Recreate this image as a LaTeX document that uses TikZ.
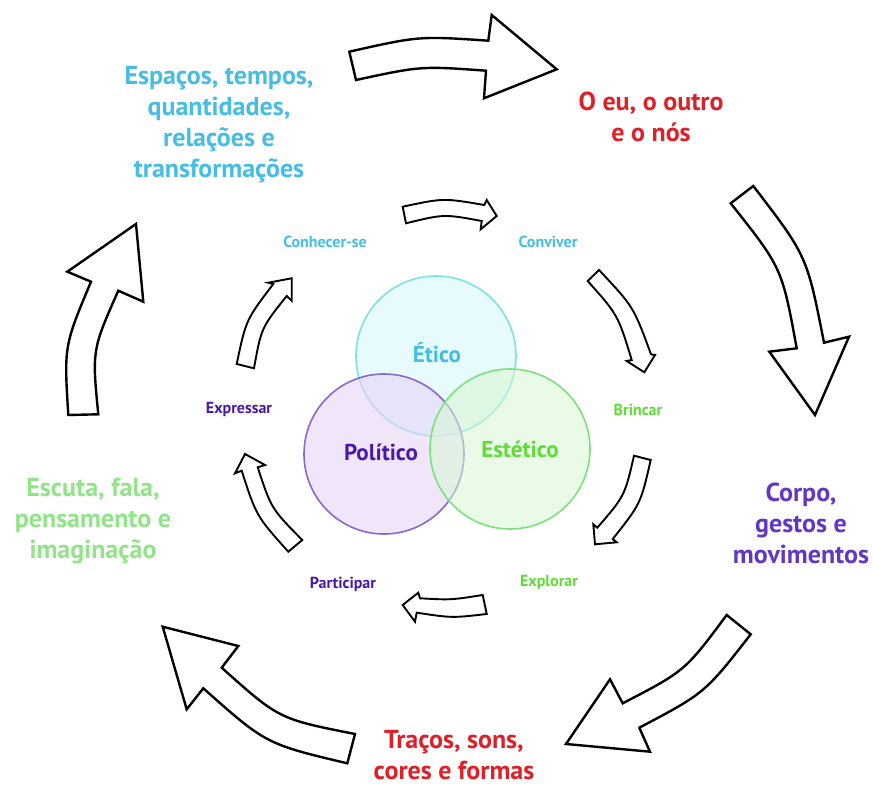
\documentclass[tikz,border=0pt]{standalone}
\usepackage{fontspec}
\setmainfont{PT Sans}
\definecolor{cyantxt}{RGB}{70,190,228}
\definecolor{redtxt}{RGB}{222,32,40}
\definecolor{purpletxt}{RGB}{100,55,195}
\definecolor{darkpurple}{RGB}{75,25,170}
\definecolor{lightgreentxt}{RGB}{145,228,135}
\definecolor{greentxt}{RGB}{95,220,55}
\definecolor{eticoline}{RGB}{125,225,230}
\definecolor{eticofill}{RGB}{215,248,250}
\definecolor{politicoline}{RGB}{135,105,210}
\definecolor{politicofill}{RGB}{232,212,248}
\definecolor{esteticoline}{RGB}{125,225,125}
\definecolor{esteticofill}{RGB}{215,248,210}
\tikzset{
  bigtxt/.style={font=\fontsize{26}{31}\selectfont\bfseries, align=center, inner sep=0pt},
  smalltxt/.style={font=\fontsize{16}{18}\selectfont\bfseries, inner sep=0pt},
  circtxt/.style={font=\fontsize{23}{25}\selectfont\bfseries, inner sep=0pt},
  blockarrow/.style={draw=black, line width=2.4pt, fill=white, line join=miter},
  smallarrow/.style={draw=black, line width=1.9pt, fill=white, line join=miter},
  ring/.style={circle, minimum size=160pt, inner sep=0pt, line width=1.6pt}
}
\begin{document}
\begin{tikzpicture}[x=1pt,y=-1pt]
\useasboundingbox (0,0) rectangle (873,799);
\fill[white] (0,0) rectangle (873,799);

% circles
\node[ring, draw=eticoline, fill=eticofill, fill opacity=0.6] (etico) at (436,356) {};
\node[ring, draw=politicoline, fill=politicofill, fill opacity=0.6] (politico) at (384,454) {};
\node[ring, draw=esteticoline, fill=esteticofill, fill opacity=0.55] (estetico) at (510,449) {};
\node[circtxt, text=cyantxt] (teti) at (437,353) {Ético};
\node[circtxt, text=darkpurple] (tpol) at (381,452) {Político};
\node[circtxt, text=greentxt] (test) at (520,449) {Estético};

% outer labels
\node[bigtxt, text=cyantxt] (espacos) at (219,125) {Espaços, tempos,\\quantidades,\\relações e\\transformações};
\node[bigtxt, text=redtxt] (oeu) at (651,117) {O eu, o outro\\e o nós};
\node[bigtxt, text=purpletxt] (corpo) at (801,523) {Corpo,\\gestos e\\movimentos};
\node[bigtxt, text=redtxt] (tracos) at (454,755) {Traços, sons,\\cores e formas};
\node[bigtxt, text=lightgreentxt] (escuta) at (93,521) {Escuta, fala,\\pensamento e\\imaginação};

% inner labels
\node[smalltxt, text=cyantxt] (conhecer) at (325,242) {Conhecer-se};
\node[smalltxt, text=cyantxt] (conviver) at (548,242) {Conviver};
\node[smalltxt, text=greentxt] (brincar) at (638,410) {Brincar};
\node[smalltxt, text=greentxt] (explorar) at (549,582) {Explorar};
\node[smalltxt, text=darkpurple] (participar) at (343,584) {Participar};
\node[smalltxt, text=darkpurple] (expressar) at (239,410) {Expressar};

% outer block arrows
\draw[blockarrow] (349.3,51.7) .. controls (419,36) .. (488.3,40.7) -- (491.7,15) -- (556.7,69.3) -- (484,98.3) -- (486,70.7) .. controls (421,66) .. (356,80) -- cycle;
\draw[blockarrow] (753.3,186) .. controls (807,256) .. (824,342.7) -- (849,336.7) -- (815,415) -- (769.3,351.7) -- (796.7,348.3) .. controls (782,268) .. (730.7,203.3) -- cycle;
\draw[blockarrow] (750.7,634.3) .. controls (705,693) .. (639.3,727.7) -- (650,751.7) -- (566,744) -- (610,679.3) -- (622.7,703.3) .. controls (685,671) .. (726.7,615) -- cycle;
\draw[blockarrow] (347.3,763.3) .. controls (266,744) .. (203.3,688.3) -- (186.7,709.3) -- (162.7,626.7) -- (238.3,646) -- (221.7,667.7) .. controls (279,719) .. (355,734) -- cycle;
\draw[blockarrow] (68.3,415) .. controls (64,346) .. (91,281.7) -- (67.3,271.7) -- (136,224) -- (143.3,301.7) -- (118.3,290.7) .. controls (92,350) .. (98.3,414.3) -- cycle;

% inner block arrows
\draw[smallarrow] (402.7,206.7) .. controls (443.5,198) .. (484.3,205) -- (486.7,200) -- (496.7,216) -- (480.7,229.3) -- (481.7,221) .. controls (444,214) .. (406,223.3) -- cycle;
\draw[smallarrow] (599,270) .. controls (633.5,306.7) .. (651,354.3) -- (655,355) -- (644.3,372.3) -- (626.7,361) -- (631.7,360) .. controls (618,315) .. (587.7,281) -- cycle;
\draw[smallarrow] (650.7,460) .. controls (640.7,503.8) .. (612.7,539) -- (616.7,542.3) -- (595,544.3) -- (593.3,524.3) -- (597.3,527.7) .. controls (624.7,496) .. (634,455.7) -- cycle;
\draw[smallarrow] (482.7,595) .. controls (451,600) .. (420,598.3) -- (418.3,592.7) -- (402.7,605) -- (415,621.7) -- (416.7,612.7) .. controls (452,618) .. (486.7,614) -- cycle;
\draw[smallarrow] (288.3,551.7) .. controls (256.3,516) .. (241.7,470.7) -- (235,473.3) -- (245,454) -- (265,465) -- (257.7,467.3) .. controls (271.3,508.7) .. (302.3,540) -- cycle;
\draw[smallarrow] (236.7,364) .. controls (246,319.8) .. (273.3,284) -- (268.3,282.7) -- (291.7,278.3) -- (291.7,300.7) -- (286.7,296) .. controls (261.3,327.8) .. (254,368.3) -- cycle;
\end{tikzpicture}
\end{document}
